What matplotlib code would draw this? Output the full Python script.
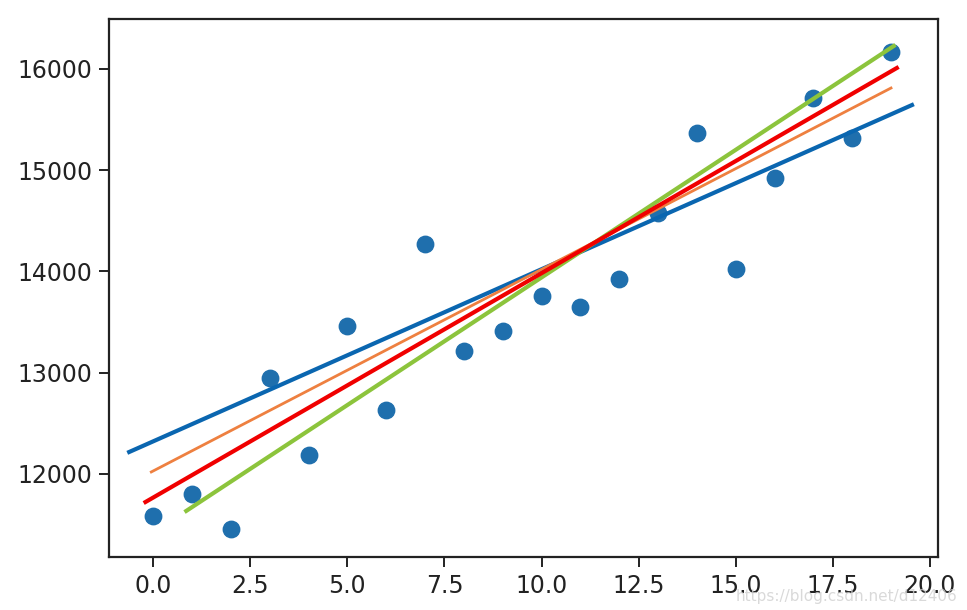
import matplotlib.pyplot as plt
import numpy as np

# scatter data
xs = np.arange(20)
ys = [11585, 11802, 11457, 12948, 12188, 13462, 12632, 14272, 13215, 13412,
      13758, 13649, 13926, 14578, 15368, 14025, 14923, 15714, 15319, 16168]

# fitted lines (start/end points)
blue_x = [-0.62, 19.54]
blue_y = [12217, 15644]
orange_x = [-0.05, 19.0]
orange_y = [12020, 15812]
red_x = [-0.2, 19.15]
red_y = [11723, 16010]
green_x = [0.85, 19.07]
green_y = [11635, 16227]

xticks = [0.0, 2.5, 5.0, 7.5, 10.0, 12.5, 15.0, 17.5, 20.0]
yticks = [12000, 13000, 14000, 15000, 16000]

fig = plt.figure(figsize=(9.67, 6.1), dpi=100)
ax = fig.add_axes([0.1127, 0.0869, 0.8573, 0.882])

ax.scatter(xs, ys, s=140, color='#1f6fad', zorder=2)
ax.plot(blue_x, blue_y, color='#0a66b0', linewidth=3.0, zorder=3)
ax.plot(orange_x, orange_y, color='#ee8040', linewidth=2.0, zorder=3)
ax.plot(green_x, green_y, color='#8cc43c', linewidth=3.0, zorder=3)
ax.plot(red_x, red_y, color='#f00000', linewidth=3.0, zorder=4)

ax.set_xlim(-1.14, 20.21)
ax.set_ylim(11180, 16494)
ax.set_xticks(xticks)
ax.set_xticklabels(['%.1f' % t for t in xticks])
ax.set_yticks(yticks)

ax.tick_params(labelsize=17, length=7, width=1.4, pad=5, colors='#222222')
for sp in ax.spines.values():
    sp.set_linewidth(1.6)
    sp.set_color('#222222')

# faint watermark
fig.text(0.99, 0.022, 'https://blog.csdn.net/d12406', ha='right', va='center',
         fontsize=11, color='#d0d0d0', alpha=0.8)

fig.savefig('out.png', dpi=100)
